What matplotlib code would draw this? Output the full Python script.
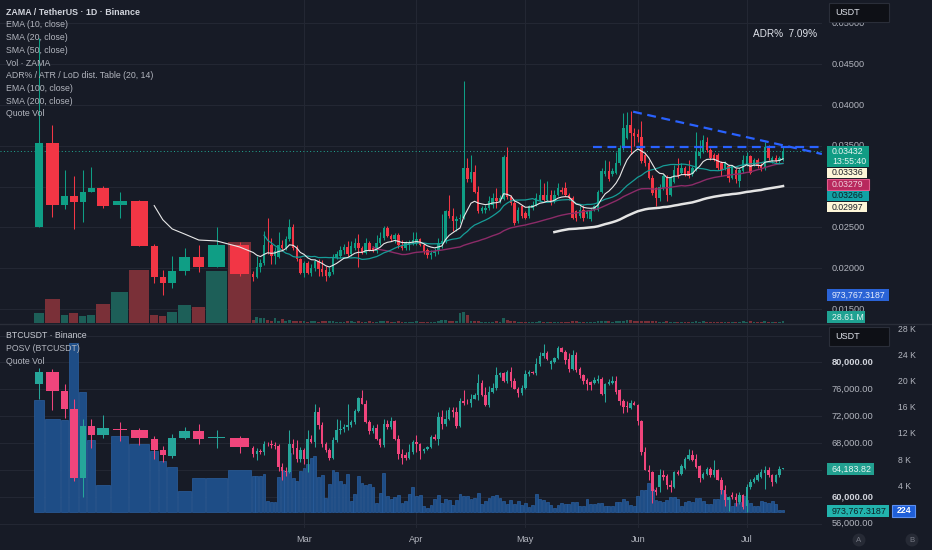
import numpy as np
import pandas as pd
import matplotlib
matplotlib.use("Agg")
import matplotlib.pyplot as plt
from matplotlib.patches import Rectangle, Ellipse
from matplotlib.lines import Line2D
from matplotlib.transforms import blended_transform_factory as btf

plt.rcParams['font.family'] = ['Liberation Sans', 'DejaVu Sans']

# ---------------- DATA (x = day offset from 2026-01-01) ----------------
# first 16 bars are irregular (wide) bars: their boundaries in days
early_edges = [-15.48, -12.51, -8.10, -5.81, -3.06, -0.88, 1.60, 5.76, 10.72,
               16.48, 18.96, 21.19, 24.14, 28.08, 31.94, 37.97, 44.5]
daily_days = np.arange(45, 192)          # daily bars Feb 14 .. Jul 10

zama_open_early = [0.02504, 0.03540, 0.02780, 0.02880, 0.02810, 0.02930, 0.02980, 0.02770,
                   0.02820, 0.02272, 0.01890, 0.01820, 0.01970, 0.02138, 0.02020, 0.02284]
zama_high_early = [0.04817, 0.03760, 0.03200, 0.03134, 0.03200, 0.03244, 0.03010, 0.02935,
                   0.02838, 0.02296, 0.01979, 0.02156, 0.02248, 0.02280, 0.02500, 0.02320]
zama_low_early = [0.02504, 0.02634, 0.02732, 0.02476, 0.02573, 0.02930, 0.02744, 0.02610,
                  0.02270, 0.01817, 0.01674, 0.01756, 0.01923, 0.01955, 0.02020, 0.01910]
zama_close_early = [0.03540, 0.02780, 0.02890, 0.02810, 0.02930, 0.02984, 0.02760, 0.02820,
                    0.02272, 0.01894, 0.01820, 0.01972, 0.02138, 0.02016, 0.02284, 0.01931]
zama_vol_early = [190, 445, 139, 177, 127, 146, 355, 578, 1001, 146, 133, 198, 336, 304, 988, 1528]  # M

zama_open = [
    0.0193, 0.0189, 0.0201, 0.0207, 0.0229, 0.0228, 0.0215, 0.0214, 0.0229, 0.0225,
    0.0236, 0.0250, 0.0225, 0.0211, 0.0194, 0.0207, 0.0194, 0.0200, 0.0209, 0.0199,
    0.0198, 0.0190, 0.0195, 0.0213, 0.0215, 0.0222, 0.0226, 0.0217, 0.0225, 0.0231,
    0.0225, 0.0219, 0.0231, 0.0225, 0.0221, 0.0231, 0.0237, 0.0249, 0.0240, 0.0236,
    0.0241, 0.0229, 0.0225, 0.0228, 0.0231, 0.0231, 0.0236, 0.0229, 0.0222, 0.0216,
    0.0219, 0.0221, 0.0231, 0.0233, 0.0270, 0.0264, 0.0258, 0.0260, 0.0262, 0.0323,
    0.0309, 0.0318, 0.0293, 0.0270, 0.0272, 0.0274, 0.0277, 0.0286, 0.0282, 0.0285,
    0.0336, 0.0287, 0.0280, 0.0258, 0.0276, 0.0268, 0.0264, 0.0274, 0.0278, 0.0284,
    0.0290, 0.0284, 0.0290, 0.0282, 0.0290, 0.0296, 0.0298, 0.0290, 0.0286, 0.0270,
    0.0264, 0.0272, 0.0266, 0.0260, 0.0272, 0.0272, 0.0294, 0.0315, 0.0319, 0.0315,
    0.0317, 0.0329, 0.0347, 0.0360, 0.0376, 0.0366, 0.0365, 0.0361, 0.0339, 0.0329,
    0.0311, 0.0298, 0.0286, 0.0298, 0.0311, 0.0290, 0.0306, 0.0323, 0.0317, 0.0323,
    0.0319, 0.0315, 0.0321, 0.0337, 0.0343, 0.0355, 0.0345, 0.0339, 0.0339, 0.0329,
    0.0323, 0.0325, 0.0311, 0.0321, 0.0307, 0.0319, 0.0327, 0.0337, 0.0327, 0.0333,
    0.0327, 0.0323, 0.0349, 0.0331, 0.0335, 0.0331, 0.0333]
zama_high = [
    0.0197, 0.0215, 0.0212, 0.0246, 0.0262, 0.0237, 0.0226, 0.0244, 0.0235, 0.0240,
    0.0260, 0.0254, 0.0229, 0.0213, 0.0209, 0.0209, 0.0205, 0.0211, 0.0212, 0.0210,
    0.0203, 0.0201, 0.0217, 0.0221, 0.0227, 0.0230, 0.0233, 0.0233, 0.0237, 0.0242,
    0.0227, 0.0237, 0.0233, 0.0227, 0.0241, 0.0245, 0.0252, 0.0252, 0.0242, 0.0243,
    0.0243, 0.0235, 0.0233, 0.0235, 0.0245, 0.0244, 0.0237, 0.0231, 0.0225, 0.0223,
    0.0225, 0.0237, 0.0267, 0.0272, 0.0290, 0.0274, 0.0264, 0.0266, 0.0429, 0.0335,
    0.0339, 0.0327, 0.0301, 0.0276, 0.0278, 0.0288, 0.0292, 0.0298, 0.0290, 0.0339,
    0.0349, 0.0290, 0.0282, 0.0275, 0.0278, 0.0270, 0.0278, 0.0282, 0.0292, 0.0309,
    0.0305, 0.0307, 0.0296, 0.0296, 0.0304, 0.0300, 0.0306, 0.0292, 0.0288, 0.0272,
    0.0276, 0.0278, 0.0272, 0.0274, 0.0278, 0.0296, 0.0323, 0.0333, 0.0331, 0.0323,
    0.0343, 0.0351, 0.0390, 0.0392, 0.0393, 0.0372, 0.0370, 0.0380, 0.0342, 0.0333,
    0.0314, 0.0300, 0.0303, 0.0315, 0.0314, 0.0313, 0.0327, 0.0335, 0.0329, 0.0325,
    0.0333, 0.0325, 0.0367, 0.0357, 0.0363, 0.0361, 0.0347, 0.0341, 0.0341, 0.0331,
    0.0331, 0.0327, 0.0327, 0.0323, 0.0323, 0.0339, 0.0343, 0.0339, 0.0335, 0.0335,
    0.0329, 0.0355, 0.0351, 0.0337, 0.0339, 0.0337, 0.0349]
zama_low = [
    0.0185, 0.0188, 0.0196, 0.0204, 0.0217, 0.0205, 0.0205, 0.0213, 0.0222, 0.0223,
    0.0234, 0.0223, 0.0209, 0.0193, 0.0189, 0.0193, 0.0190, 0.0197, 0.0191, 0.0191,
    0.0185, 0.0189, 0.0193, 0.0211, 0.0213, 0.0218, 0.0215, 0.0215, 0.0223, 0.0201,
    0.0217, 0.0217, 0.0221, 0.0220, 0.0219, 0.0229, 0.0235, 0.0238, 0.0233, 0.0231,
    0.0225, 0.0223, 0.0223, 0.0223, 0.0228, 0.0229, 0.0227, 0.0217, 0.0213, 0.0212,
    0.0215, 0.0218, 0.0225, 0.0231, 0.0262, 0.0246, 0.0246, 0.0256, 0.0260, 0.0306,
    0.0306, 0.0292, 0.0268, 0.0268, 0.0268, 0.0272, 0.0274, 0.0274, 0.0280, 0.0284,
    0.0285, 0.0278, 0.0253, 0.0256, 0.0262, 0.0260, 0.0262, 0.0272, 0.0276, 0.0282,
    0.0282, 0.0282, 0.0278, 0.0280, 0.0288, 0.0291, 0.0288, 0.0284, 0.0260, 0.0258,
    0.0262, 0.0258, 0.0262, 0.0258, 0.0270, 0.0270, 0.0292, 0.0313, 0.0307, 0.0313,
    0.0315, 0.0327, 0.0345, 0.0358, 0.0340, 0.0350, 0.0355, 0.0329, 0.0325, 0.0309,
    0.0290, 0.0276, 0.0282, 0.0296, 0.0282, 0.0288, 0.0304, 0.0311, 0.0315, 0.0313,
    0.0311, 0.0313, 0.0319, 0.0335, 0.0341, 0.0343, 0.0333, 0.0331, 0.0321, 0.0313,
    0.0321, 0.0306, 0.0309, 0.0304, 0.0300, 0.0317, 0.0325, 0.0315, 0.0325, 0.0323,
    0.0319, 0.0321, 0.0333, 0.0329, 0.0329, 0.0329, 0.0331]
zama_close = [
    0.0189, 0.0201, 0.0207, 0.0229, 0.0228, 0.0215, 0.0221, 0.0229, 0.0225, 0.0236,
    0.0250, 0.0225, 0.0211, 0.0194, 0.0207, 0.0194, 0.0200, 0.0209, 0.0199, 0.0196,
    0.0190, 0.0195, 0.0213, 0.0217, 0.0223, 0.0226, 0.0217, 0.0227, 0.0231, 0.0225,
    0.0219, 0.0231, 0.0223, 0.0221, 0.0231, 0.0237, 0.0249, 0.0240, 0.0236, 0.0241,
    0.0228, 0.0225, 0.0231, 0.0231, 0.0235, 0.0236, 0.0229, 0.0221, 0.0216, 0.0219,
    0.0221, 0.0231, 0.0233, 0.0270, 0.0264, 0.0258, 0.0260, 0.0262, 0.0323, 0.0309,
    0.0318, 0.0293, 0.0270, 0.0274, 0.0274, 0.0282, 0.0286, 0.0282, 0.0286, 0.0336,
    0.0287, 0.0280, 0.0255, 0.0272, 0.0264, 0.0262, 0.0276, 0.0278, 0.0286, 0.0290,
    0.0284, 0.0290, 0.0280, 0.0290, 0.0298, 0.0293, 0.0290, 0.0286, 0.0261, 0.0261,
    0.0272, 0.0262, 0.0270, 0.0272, 0.0276, 0.0294, 0.0319, 0.0319, 0.0309, 0.0319,
    0.0329, 0.0347, 0.0372, 0.0376, 0.0366, 0.0362, 0.0361, 0.0331, 0.0329, 0.0311,
    0.0292, 0.0286, 0.0300, 0.0313, 0.0290, 0.0311, 0.0321, 0.0313, 0.0323, 0.0315,
    0.0313, 0.0323, 0.0343, 0.0343, 0.0357, 0.0345, 0.0335, 0.0333, 0.0323, 0.0321,
    0.0329, 0.0311, 0.0325, 0.0309, 0.0321, 0.0333, 0.0337, 0.0317, 0.0333, 0.0325,
    0.0323, 0.0349, 0.0335, 0.0335, 0.0331, 0.0335, 0.03432]
zama_vol = [  # millions
    60, 101, 89, 95, 51, 40, 82, 38, 76, 40,
    45, 35, 28, 30, 25, 22, 30, 25, 20, 28,
    32, 25, 30, 22, 18, 20, 25, 30, 22, 35,
    20, 18, 25, 20, 22, 30, 35, 28, 20, 18,
    25, 20, 18, 22, 20, 25, 18, 22, 20, 18,
    20, 30, 45, 60, 40, 30, 25, 190, 196, 150,
    40, 35, 30, 22, 18, 20, 22, 25, 20, 82,
    45, 30, 28, 20, 18, 20, 18, 15, 20, 25,
    20, 22, 18, 20, 22, 18, 20, 18, 30, 25,
    20, 18, 15, 18, 20, 35, 40, 30, 25, 20,
    28, 30, 40, 45, 51, 35, 30, 40, 28, 30,
    32, 25, 20, 22, 25, 20, 22, 18, 15, 18,
    20, 18, 30, 22, 25, 18, 15, 18, 20, 18,
    15, 18, 20, 18, 22, 25, 20, 25, 18, 15,
    15, 28, 22, 18, 15, 18, 28]

btc_open_early = [76860, 78602, 75716, 73030, 62781, 70493, 69150, 70145,
                  70000, 68652, 67010, 66015, 68752, 69746, 68752, 68752]
btc_high_early = [79248, 79000, 76761, 74500, 71637, 71637, 72134, 71139,
                  70294, 68999, 67507, 69398, 70393, 70891, 69895, 69000]
btc_low_early = [74522, 72880, 71786, 62283, 59945, 67308, 68801, 68254,
                 67756, 65667, 65170, 65767, 68652, 67905, 67259, 66512]
btc_close_early = [78602, 75716, 73030, 62781, 70493, 69150, 70244, 70000,
                   68752, 67010, 66164, 68752, 69746, 68652, 68850, 67408]
btc_vol_early = [17186, 14313, 14108, 25907, 18468, 11030, 4207, 11748,
                 10465, 9440, 7798, 6874, 3232, 5181, 5284, 6413]

btc_open = [
    67314, 66318, 66816, 66700, 67910, 67800, 67700, 67513, 64428, 63830,
    63700, 67910, 67314, 65672, 66916, 65672, 68657, 68160, 72637, 70646,
    67910, 67015, 65821, 68408, 69900, 70150, 70398, 70646, 71145, 72786,
    74776, 73880, 71145, 69801, 70299, 68657, 67660, 70895, 70398, 71244,
    68657, 66418, 66170, 65821, 66667, 68160, 67910, 66816, 67165, 67413,
    68905, 68657, 71890, 70895, 71642, 72885, 72637, 70497, 74278, 74130,
    73980, 74627, 75124, 76965, 75124, 73632, 75621, 76219, 78109, 78458,
    77264, 78607, 77264, 76119, 75472, 76269, 78259, 78607, 78458, 79751,
    80945, 81443, 79850, 80100, 80597, 82089, 81592, 80448, 79104, 81094,
    79104, 78109, 77463, 77115, 76966, 77264, 77612, 75373, 76866, 76966,
    77264, 75870, 74278, 73483, 73284, 74030, 73632, 71294, 66667, 64030,
    63680, 61045, 61443, 63184, 63035, 61691, 61443, 63682, 63433, 64329,
    65672, 66170, 65672, 64528, 62836, 63433, 64179, 63184, 63930, 62537,
    60946, 59552, 60200, 59950, 59204, 60200, 58707, 61443, 62189, 62438,
    62935, 63532, 63930, 63184, 62189, 63184, 64179]
btc_high = [
    67513, 67314, 67100, 68259, 68200, 68408, 68160, 67910, 65000, 64400,
    69900, 68657, 68408, 67413, 67200, 69900, 69155, 73880, 73383, 71145,
    68100, 67200, 68905, 71642, 71393, 70895, 73780, 71393, 73134, 74875,
    75870, 74378, 71393, 70646, 70895, 68800, 71642, 71393, 71890, 71393,
    69155, 67165, 66667, 67910, 68408, 69155, 68000, 67200, 67600, 69155,
    69303, 72637, 72885, 72985, 73383, 73383, 73383, 74776, 75870, 74627,
    75273, 75472, 78259, 77363, 76368, 76468, 76965, 79353, 78607, 78557,
    78856, 79353, 77761, 76400, 76617, 78856, 78955, 78800, 80597, 81592,
    82736, 81741, 80300, 80846, 82438, 82338, 81840, 81343, 81840, 81592,
    79300, 78358, 77700, 77300, 77860, 78109, 77800, 76900, 77612, 77960,
    77960, 76000, 74500, 74278, 74378, 74230, 73800, 71500, 67413, 64676,
    63900, 61443, 64179, 63930, 63433, 62438, 63830, 63930, 64925, 65920,
    67165, 66916, 66418, 64700, 63682, 64428, 64428, 65522, 64179, 62935,
    61691, 60100, 60697, 60548, 60697, 60448, 61940, 62687, 62935, 63532,
    64179, 64527, 64428, 63433, 63433, 64527, 64329]
btc_low = [
    65920, 65522, 66400, 66170, 67500, 67314, 67160, 63830, 62438, 63100,
    63580, 66418, 65174, 65174, 64925, 63680, 68000, 67413, 70150, 67413,
    66667, 65423, 65600, 68160, 69403, 69700, 69988, 70400, 70900, 72637,
    73850, 70995, 69403, 69500, 68408, 67413, 67400, 70100, 70150, 68500,
    65672, 64925, 65423, 65672, 66418, 66667, 65672, 66500, 67000, 67200,
    68500, 67660, 70150, 70500, 71400, 71890, 70299, 70398, 73632, 73800,
    73383, 74500, 74378, 75000, 73483, 73400, 75400, 75870, 77900, 77115,
    77000, 76368, 76000, 74875, 75200, 76000, 78000, 78300, 78200, 79500,
    80700, 80348, 79105, 79900, 80448, 81500, 79850, 78607, 78900, 78607,
    77761, 76866, 75970, 75970, 76800, 77000, 75124, 74129, 76700, 76800,
    75373, 73632, 72487, 72637, 73100, 73600, 70647, 66170, 63930, 62438,
    59055, 60200, 60697, 62438, 61194, 60697, 61300, 63200, 63200, 64200,
    65500, 65300, 64300, 62190, 62600, 63300, 62900, 63000, 62438, 60349,
    58707, 57960, 59700, 58707, 59000, 58210, 57711, 61200, 62000, 62300,
    62800, 61194, 62900, 61542, 62000, 63000, 64100]
btc_close = [
    66318, 66816, 66700, 67910, 67800, 67700, 67513, 64428, 63830, 63700,
    67910, 67314, 65672, 66916, 65672, 68657, 68160, 72637, 70646, 67910,
    67015, 65821, 68408, 69900, 70150, 70398, 70646, 71145, 72786, 74776,
    73880, 71145, 69801, 70299, 68657, 67660, 70895, 70398, 71244, 68657,
    66418, 65821, 65821, 66667, 68160, 67910, 66816, 67165, 67413, 68905,
    68657, 71890, 70895, 71642, 72885, 72637, 70497, 74278, 73980, 74080,
    74627, 75124, 76965, 75124, 73632, 75621, 76219, 78109, 78458, 77264,
    78607, 77264, 76119, 75472, 76269, 78259, 78607, 78458, 79751, 80945,
    81443, 80448, 80249, 80597, 82089, 81592, 80348, 79104, 81094, 78856,
    78109, 77264, 76866, 76617, 77463, 77612, 75373, 76866, 77115, 77264,
    75621, 74278, 73383, 73383, 73980, 73732, 71294, 66667, 64030, 63680,
    60846, 60697, 63184, 62935, 61691, 61443, 63682, 63433, 64527, 65672,
    66170, 65522, 64428, 62836, 63433, 64179, 63184, 63930, 62537, 61045,
    59552, 59950, 59950, 59453, 60200, 58458, 61443, 62189, 62687, 63184,
    63682, 63930, 63184, 62189, 63184, 64179, 64184]
btc_vol = [
    5489, 5592, 5592, 5848, 1642, 1539, 1488, 5387, 6413, 6361,
    9080, 5181, 4822, 6361, 6772, 7439, 8311, 8670, 5387, 5694,
    2206, 4361, 6515, 6105, 4720, 4361, 5797, 1744, 2822, 5592,
    4463, 4104, 4309, 3848, 1385, 2873, 6002, 2514, 2001, 2309,
    2668, 1385, 1693, 2822, 3796, 2514, 2668, 975, 616, 1077,
    2001, 2668, 1385, 2052,
    1796, 1180, 1898, 2719, 2411, 2411, 2001, 2155, 2924, 1283,
    1693, 2103, 2411, 2616, 2103, 1744, 1283, 1796, 1283, 1744,
    1129, 1385, 872, 1077, 2719, 2052, 1847, 1590, 1129, 718,
    1077, 1385, 1283, 1283, 1539, 1590, 1026, 1026, 2052, 1283,
    1283, 1436, 1334, 1026, 975, 975, 1488, 1590, 2052, 1693,
    1077, 975,
    2411, 3437, 3437, 4463, 3540, 1898, 1642, 1539, 1796, 2257,
    2257, 2001, 975, 1488, 1693, 1590, 2206, 2206, 1642, 1231,
    1231, 2001, 2001, 3437, 2770, 2155, 1026, 1385, 1590, 2411,
    1898, 1334, 975, 975, 1693, 1488, 1385, 1693, 1283, 359, 308]

# drawn trend lines on ZAMA (day, price)
hline_start_day, hline_price = 138.6, 0.0349
desc_days = [149.7, 201.7]
desc_prices = [0.03918, 0.0340]
last_price = 0.03432

month_days = [59, 90, 120, 151, 181]
month_labels = ['Mar', 'Apr', 'May', 'Jun', 'Jul']
zama_grid = [0.015, 0.020, 0.025, 0.030, 0.035, 0.040, 0.045, 0.050]
zama_ticks = [0.015, 0.020, 0.025, 0.035, 0.040, 0.045, 0.050]   # 0.030 is hidden by tags
btc_grid = [56000, 60000, 64000, 68000, 72000, 76000, 80000, 84000]
btc_ticks = [56000, 60000, 68000, 72000, 76000, 80000]          # others hidden by tags
btcvol_ticks = [4000, 8000, 12000, 16000, 20000, 24000, 28000]

legend_top = ['EMA (10, close)', 'SMA (20, close)', 'SMA (50, close)', 'Vol · ZAMA',
              'ADR% / ATR / LoD dist. Table (20, 14)', 'EMA (100, close)', 'SMA (200, close)', 'Quote Vol']
legend_btm = ['POSV (BTCUSDT)', 'Quote Vol']
ma_tags = ['0.03336', '0.03279', '0.03266', '0.02997']

# ---------------- STYLE / LAYOUT ----------------
BG = '#171b26'
GRID = '#232733'
TXT = '#b2b5be'
Z_UP, Z_DN = '#0f9e85', '#f23645'
Z_VUP, Z_VDN = '#1d5f58', '#7a3038'
B_UP, B_DN = '#26a69a', '#f0457c'
W, H = 932, 550
PLOT_R, SEP, BOT = 822, 323.5, 528
XL = (-24.77, 201.74)


def fx(px):
    return px / W


def fy(py):
    return 1 - py / H


fig = plt.figure(figsize=(W / 100, H / 100), dpi=100, facecolor=BG)
ax1 = fig.add_axes([0, fy(SEP), fx(PLOT_R), SEP / H])
ax1v = ax1.twinx()
ax2 = fig.add_axes([0, fy(BOT), fx(PLOT_R), (BOT - SEP) / H])
ax2v = ax2.twinx()
for a in (ax1, ax2):
    a.set_zorder(2)
    a.patch.set_visible(False)
for a in (ax1v, ax2v):
    a.set_zorder(1)
    a.patch.set_facecolor(BG)
for a in (ax1, ax1v, ax2, ax2v):
    for s in a.spines.values():
        s.set_visible(False)
    a.tick_params(left=False, right=False, bottom=False, top=False,
                  labelleft=False, labelright=False, labelbottom=False)
    a.set_xlim(*XL)

ee = np.array(early_edges)
x_all = np.concatenate([(ee[:-1] + ee[1:]) / 2, daily_days])
slot = np.concatenate([np.diff(ee), np.ones(len(daily_days))])
body_w = np.where(slot > 1.5, slot * 0.8, 0.68)
vol_w = np.where(slot > 1.5, slot - 0.3, 0.78)


def candles(ax, o, h, l, c, up, dn, min_body):
    o, h, l, c = map(np.asarray, (o, h, l, c))
    col = np.where(c >= o, up, dn)
    ax.vlines(x_all, l, h, colors=col, linewidth=0.75, zorder=3)
    ax.bar(x_all, np.maximum(np.abs(c - o), min_body), width=body_w,
           bottom=np.minimum(o, c), color=col, linewidth=0, zorder=3)
    return col


def tv_ema(vals, n):
    vals = np.asarray(vals, float)
    out = np.full(len(vals), np.nan)
    out[n - 1] = vals[:n].mean()
    a = 2 / (n + 1)
    for i in range(n, len(vals)):
        out[i] = a * vals[i] + (1 - a) * out[i - 1]
    return out


# ---------------- ZAMA pane ----------------
zo = zama_open_early + zama_open
zh = zama_high_early + zama_high
zl = zama_low_early + zama_low
zc = zama_close_early + zama_close
zv = zama_vol_early + zama_vol
ax1.set_ylim(0.01324, 0.05286)
ax1v.set_ylim(-15.2, 6131)
gt = btf(ax1v.transAxes, ax1.transData)
for p in zama_grid:
    ax1v.add_line(Line2D([0, 1], [p, p], transform=gt, color=GRID, lw=0.8, zorder=0))
for d in month_days:
    ax1v.axvline(d, color=GRID, lw=0.8, zorder=0)
zup = np.asarray(zc) >= np.asarray(zo)
ax1v.bar(x_all, zv, width=vol_w, color=np.where(zup, Z_VUP, Z_VDN), linewidth=0)
candles(ax1, zo, zh, zl, zc, Z_UP, Z_DN, 0.00005)

cs = pd.Series(zc)
ema10 = tv_ema(zc, 10)
sma20 = cs.rolling(20).mean().values
sma50 = cs.rolling(50).mean().values
ema100 = tv_ema(zc, 100)
ax1.plot(x_all, sma50, color='#8c2b68', lw=1.0, zorder=4)
ax1.plot(x_all, sma20, color='#169d98', lw=0.9, zorder=4)
ax1.plot(x_all, ema100, color='#e4e4e4', lw=1.8, zorder=4)
ax1.plot(x_all, ema10, color='#e8e8e8', lw=0.8, zorder=4)

ax1.axhline(last_price, color='#22ab94', lw=0.7, ls=(0, (1, 2.5)), zorder=2)
ax1.plot([hline_start_day, XL[1]], [hline_price, hline_price], color='#2962ff',
         lw=1.6, ls=(0, (4, 2.5)), zorder=5)
ax1.plot(desc_days, desc_prices, color='#2962ff', lw=1.6, ls=(0, (4, 2.5)), zorder=5)

lt = btf(fig.transFigure, ax1.transData)
for p in zama_ticks:
    ax1.text(fx(831.5), p, f'{p:.5f}', transform=lt, color=TXT, fontsize=6.6,
             va='center', ha='left', clip_on=False)

# ---------------- BTC pane ----------------
bo = btc_open_early + btc_open
bh = btc_high_early + btc_high
bl = btc_low_early + btc_low
bc = btc_close_early + btc_close
bv = btc_vol_early + btc_vol
ax2.set_ylim(55357, 85807)
ax2v.set_ylim(-2421, 28920)
gt2 = btf(ax2v.transAxes, ax2.transData)
for p in btc_grid:
    ax2v.add_line(Line2D([0, 1], [p, p], transform=gt2, color=GRID, lw=0.8, zorder=0))
for d in month_days:
    ax2v.axvline(d, color=GRID, lw=0.8, zorder=0)
ax2v.bar(x_all, bv, width=vol_w, color='#1e4d86', edgecolor='#2a5f9e', linewidth=0.5)
candles(ax2, bo, bh, bl, bc, B_UP, B_DN, 60)

lt2 = btf(fig.transFigure, ax2.transData)
for p in btc_ticks:
    strong = p in (80000, 60000)
    ax2.text(fx(831.5), p, f'{p:,.2f}', transform=lt2, color='#d1d4dc' if strong else TXT,
             fontsize=6.7, va='center', ha='left', clip_on=False,
             fontweight='bold' if strong else 'normal')
lt3 = btf(fig.transFigure, ax2v.transData)
for v in btcvol_ticks:
    ax2v.text(fx(898), v, f'{v // 1000} K', transform=lt3, color=TXT, fontsize=6.2,
              va='center', ha='left', clip_on=False)

tt = btf(ax2.transData, fig.transFigure)
for d, s in zip(month_days, month_labels):
    ax2.text(d, fy(540), s, transform=tt, color=TXT, fontsize=6.6, ha='center',
             va='center', clip_on=False)

# ---------------- overlays (figure pixels) ----------------
fig.add_artist(Line2D([0, 1], [fy(SEP), fy(SEP)], transform=fig.transFigure,
                      color='#2a2e39', lw=1.0, zorder=9))


def box(x0, y0, x1, y1, fc, ec=None, lw=0.8):
    fig.add_artist(Rectangle((fx(x0), fy(y1)), (x1 - x0) / W, (y1 - y0) / H,
                             transform=fig.transFigure, facecolor=fc,
                             edgecolor=ec if ec else fc, linewidth=lw if ec else 0, zorder=10))


def ftext(x, y, s, color, size, ha='left', weight='normal'):
    fig.text(fx(x), fy(y), s, color=color, fontsize=size, ha=ha, va='center',
             fontweight=weight, zorder=11)


# legends
ftext(5.7, 12.3, 'ZAMA / TetherUS · 1D · Binance', '#d1d4dc', 6.4, weight='bold')
for i, s in enumerate(legend_top):
    ftext(5.7, 24.9 + 12.7 * i, s, TXT, 6.3)
ftext(5.7, 335.7, 'BTCUSDT · Binance', '#c8cbd3', 6.3)
for i, s in enumerate(legend_btm):
    ftext(5.7, 348.6 + 12.6 * i, s, TXT, 6.3)

ftext(752.7, 34, 'ADR%  7.09%', '#e0e3eb', 7.2)

# USDT boxes
for y0 in (2.7, 326.7):
    box(828.7, y0, 888.7, y0 + 19.3, '#0e1016', '#2a2e39', 0.8)
    ftext(835, y0 + 9.8, 'USDT', '#e0e3eb', 6.5)

# ZAMA price tags
box(826.7, 145.7, 869.3, 166.7, '#109c84')
ftext(832, 151.7, f'{last_price:.5f}', '#e8f5f2', 6.3)
ftext(832, 161.5, '13:55:40', '#e8f5f2', 6.3)
tag_style = [('#fdf6d8', None, '#1b1e27', 867.3),
             ('#b8285d', '#e45a8c', '#efd0dc', 869.3),
             ('#12a2a6', None, '#0e1f25', 869.3),
             ('#fdf6d8', None, '#1b1e27', 867.3)]
tag_y = [167.7, 179.3, 190.7, 202.0]
for s, (fc, ec, tc, xr), y0 in zip(ma_tags, tag_style, tag_y):
    box(826.7, y0, xr, y0 + 10.4, fc, ec, 0.8)
    ftext(832, y0 + 5.2, s, tc, 6.3)
box(826.7, 289.3, 888.7, 300.7, '#2a63d6')
ftext(832, 295, '973,767.3187', '#e8eefc', 6.3)
box(826.7, 311.3, 865, 322.7, '#1fa292')
ftext(832, 317, '28.61 M', '#e8f5f2', 6.3)

# BTC tags
box(826.7, 463.3, 874.3, 474.7, '#22a090')
ftext(832, 469, '64,183.82', '#e8f5f2', 6.4)
box(826.7, 505.3, 888.7, 517.3, '#22b3ad')
ftext(832, 511.3, '973,767.3187', '#0e1f25', 6.4)
box(892.3, 504.7, 915.3, 516.7, '#1f5fd8', '#5b8ff0', 0.8)
ftext(903.8, 510.7, '224', '#ffffff', 6.4, ha='center', weight='bold')

# A / B buttons
for cx, s in ((859, 'A'), (912, 'B')):
    fig.add_artist(Ellipse((fx(cx), fy(540)), 13 / W, 13 / H, transform=fig.transFigure,
                           facecolor='#262a35', edgecolor='none', zorder=10))
    ftext(cx, 540, s, '#787b86', 5.6, ha='center')

fig.savefig('out.png', dpi=100, facecolor=BG)
